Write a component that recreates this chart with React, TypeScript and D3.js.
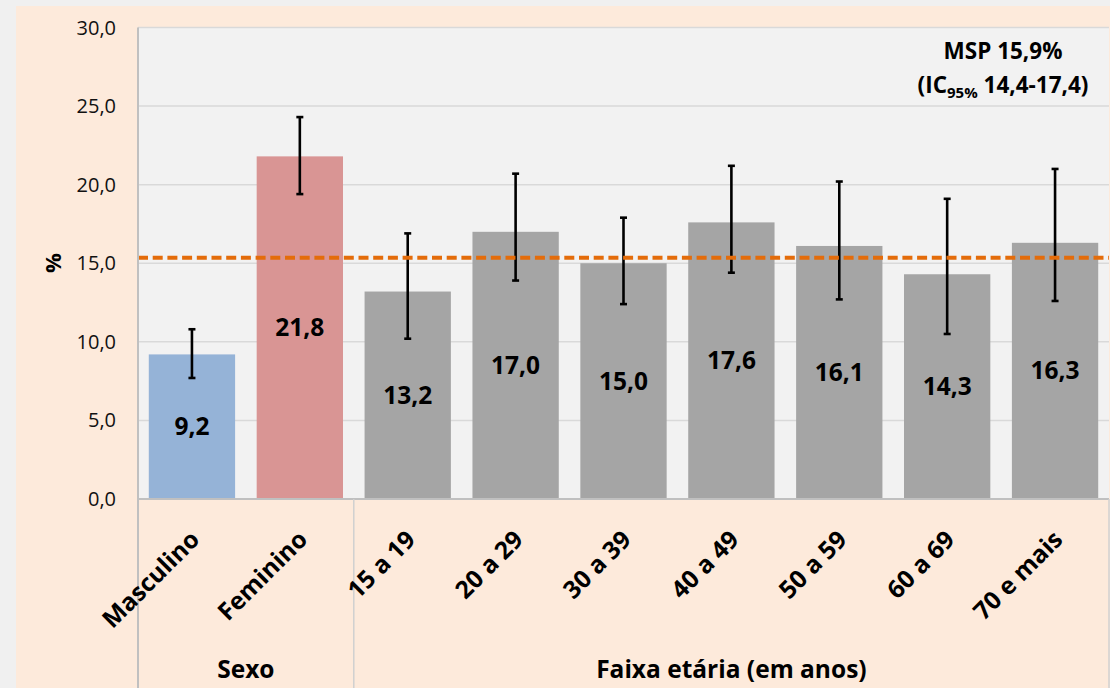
import React, { useRef, useEffect } from "react";
import * as d3 from "d3";

// values
const categories = [
  "Masculino",
  "Feminino",
  "15 a 19",
  "20 a 29",
  "30 a 39",
  "40 a 49",
  "50 a 59",
  "60 a 69",
  "70 e mais",
];
const values = [9.2, 21.8, 13.2, 17.0, 15.0, 17.6, 16.1, 14.3, 16.3];
const ciLow = [7.7, 19.4, 10.2, 13.9, 12.4, 14.4, 12.7, 10.5, 12.6];
const ciHigh = [10.8, 24.3, 16.9, 20.7, 17.9, 21.2, 20.2, 19.1, 21.0];
const groupLabels = ["Sexo", "Faixa etária (em anos)"];
const groupSizes = [2, 7];
const yTicks = [0, 5, 10, 15, 20, 25, 30];
const mspLine = 15.35;

const W = 1110;
const H = 688;
const FONT = "'Open Sans', Lato, sans-serif";

const fmt = (v: number) => d3.format(".1f")(v).replace(".", ",");

const App = () => {
  const ref = useRef<SVGSVGElement>(null);

  useEffect(() => {
    const svg = d3.select(ref.current);
    svg.selectAll("*").remove();

    const plot = { left: 138, right: 1109, top: 27.5, bottom: 499 };

    const x = d3
      .scaleBand<string>()
      .domain(categories)
      .range([plot.left, plot.right])
      .paddingInner(0.2)
      .paddingOuter(0.1);

    const y = d3.scaleLinear().domain([0, 30]).range([plot.bottom, plot.top]);

    const defs = svg.append("defs");
    defs
      .append("filter")
      .attr("id", "glow")
      .attr("x", "-5%")
      .attr("y", "-200%")
      .attr("width", "110%")
      .attr("height", "500%")
      .append("feGaussianBlur")
      .attr("stdDeviation", 2);

    // backgrounds
    svg.append("rect").attr("width", W).attr("height", H).attr("fill", "#f0f0f0");
    svg
      .append("rect")
      .attr("x", 16)
      .attr("y", 6)
      .attr("width", W - 16)
      .attr("height", H - 6)
      .attr("fill", "#fdeadb");
    svg
      .append("rect")
      .attr("x", plot.left)
      .attr("y", plot.top)
      .attr("width", plot.right - plot.left)
      .attr("height", plot.bottom - plot.top)
      .attr("fill", "#f2f2f2");

    // gridlines
    svg
      .append("g")
      .selectAll("line")
      .data(yTicks.filter((t) => t > 0))
      .join("line")
      .attr("x1", plot.left)
      .attr("x2", plot.right)
      .attr("y1", (d) => y(d))
      .attr("y2", (d) => y(d))
      .attr("stroke", "#d9d9d9")
      .attr("stroke-width", 1.5);

    // y tick labels
    svg
      .append("g")
      .selectAll("text")
      .data(yTicks)
      .join("text")
      .attr("x", 116)
      .attr("y", (d) => y(d))
      .attr("dy", "0.35em")
      .attr("text-anchor", "end")
      .attr("font-family", FONT)
      .attr("font-size", 20)
      .attr("fill", "#111")
      .text((d) => fmt(d));

    // y label
    svg
      .append("text")
      .attr("transform", "translate(53,263) rotate(-90)")
      .attr("dy", "0.35em")
      .attr("text-anchor", "middle")
      .attr("font-family", FONT)
      .attr("font-weight", "bold")
      .attr("font-size", 22)
      .text("%");

    // bars
    const fill = (i: number) => (i === 0 ? "#95b3d7" : i === 1 ? "#d99594" : "#a5a5a5");
    svg
      .append("g")
      .selectAll("rect")
      .data(values)
      .join("rect")
      .attr("x", (d, i) => x(categories[i])!)
      .attr("y", (d) => y(d))
      .attr("width", x.bandwidth())
      .attr("height", (d) => plot.bottom - y(d))
      .attr("fill", (d, i) => fill(i));

    // bar value labels
    svg
      .append("g")
      .selectAll("text")
      .data(values)
      .join("text")
      .attr("x", (d, i) => x(categories[i])! + x.bandwidth() / 2)
      .attr("y", (d) => (y(d) + plot.bottom) / 2)
      .attr("dy", "0.35em")
      .attr("text-anchor", "middle")
      .attr("font-family", FONT)
      .attr("font-weight", "bold")
      .attr("font-size", 24.5)
      .attr("fill", "#000")
      .text((d) => fmt(d));

    // msp reference line with soft glow
    svg
      .append("line")
      .attr("x1", plot.left)
      .attr("x2", plot.right)
      .attr("y1", y(mspLine))
      .attr("y2", y(mspLine))
      .attr("stroke", "#ffffff")
      .attr("stroke-opacity", 0.7)
      .attr("stroke-width", 10)
      .attr("filter", "url(#glow)");
    svg
      .append("line")
      .attr("x1", plot.left)
      .attr("x2", plot.right)
      .attr("y1", y(mspLine) + 3)
      .attr("y2", y(mspLine) + 3)
      .attr("stroke", "#000")
      .attr("stroke-opacity", 0.08)
      .attr("stroke-width", 5)
      .attr("filter", "url(#glow)");

    // error bars
    const eb = svg.append("g").attr("stroke", "#000").attr("stroke-width", 2.6);
    categories.forEach((c, i) => {
      const cx = x(c)! + x.bandwidth() / 2;
      eb.append("line").attr("x1", cx).attr("x2", cx).attr("y1", y(ciLow[i])).attr("y2", y(ciHigh[i]));
      [ciLow[i], ciHigh[i]].forEach((v) => {
        eb.append("line")
          .attr("x1", cx - 3.5)
          .attr("x2", cx + 3.5)
          .attr("y1", y(v))
          .attr("y2", y(v));
      });
    });

    svg
      .append("line")
      .attr("x1", plot.left)
      .attr("x2", plot.right)
      .attr("y1", y(mspLine))
      .attr("y2", y(mspLine))
      .attr("stroke", "#e46c0a")
      .attr("stroke-width", 4)
      .attr("stroke-dasharray", "10 4.7");

    // axes lines and group separators
    const axisColor = "#c0c0c0";
    svg
      .append("line")
      .attr("x1", plot.left)
      .attr("x2", plot.right)
      .attr("y1", plot.bottom)
      .attr("y2", plot.bottom)
      .attr("stroke", axisColor)
      .attr("stroke-width", 2);

    let start = 0;
    const bounds = [plot.left];
    groupSizes.forEach((n) => {
      start += n;
      bounds.push(start === categories.length ? plot.right : plot.left + x.step() * start);
    });
    svg
      .append("line")
      .attr("x1", plot.left)
      .attr("x2", plot.left)
      .attr("y1", plot.top)
      .attr("y2", H)
      .attr("stroke", axisColor)
      .attr("stroke-width", 2);
    svg
      .append("g")
      .selectAll("line")
      .data(bounds.slice(1))
      .join("line")
      .attr("x1", (d) => d)
      .attr("x2", (d) => d)
      .attr("y1", plot.bottom)
      .attr("y2", H)
      .attr("stroke", "#d0d0d0")
      .attr("stroke-width", 1.5);

    // category labels
    svg
      .append("g")
      .selectAll("text")
      .data(categories)
      .join("text")
      .attr("transform", (d) => `translate(${x(d)! + x.bandwidth() / 2 + 3},535) rotate(-45)`)
      .attr("dy", "0.35em")
      .attr("text-anchor", "end")
      .attr("font-family", FONT)
      .attr("font-weight", "bold")
      .attr("font-size", 24.5)
      .attr("fill", "#000")
      .text((d) => d);

    // group labels
    svg
      .append("g")
      .selectAll("text")
      .data(groupLabels)
      .join("text")
      .attr("x", (d, i) => (bounds[i] + bounds[i + 1]) / 2)
      .attr("y", 678)
      .attr("text-anchor", "middle")
      .attr("font-family", FONT)
      .attr("font-weight", "bold")
      .attr("font-size", 24.5)
      .attr("fill", "#000")
      .text((d) => d);

    // MSP annotation
    const ann = svg
      .append("text")
      .attr("text-anchor", "middle")
      .attr("font-family", FONT)
      .attr("font-weight", "bold")
      .attr("font-size", 22.5)
      .attr("fill", "#000");
    ann.append("tspan").attr("x", 1003).attr("y", 59).text("MSP 15,9%");
    const l2 = ann.append("tspan").attr("x", 1003).attr("y", 93);
    l2.append("tspan").text("(IC");
    l2.append("tspan").attr("font-size", 15).attr("dy", 5).text("95%");
    l2.append("tspan").attr("dy", -5).text(" 14,4-17,4)");
  }, []);

  return (
    <svg
      ref={ref}
      width={W}
      height={H}
      style={{ position: "absolute", left: 0, top: 0, display: "block" }}
    />
  );
};

export default App;
